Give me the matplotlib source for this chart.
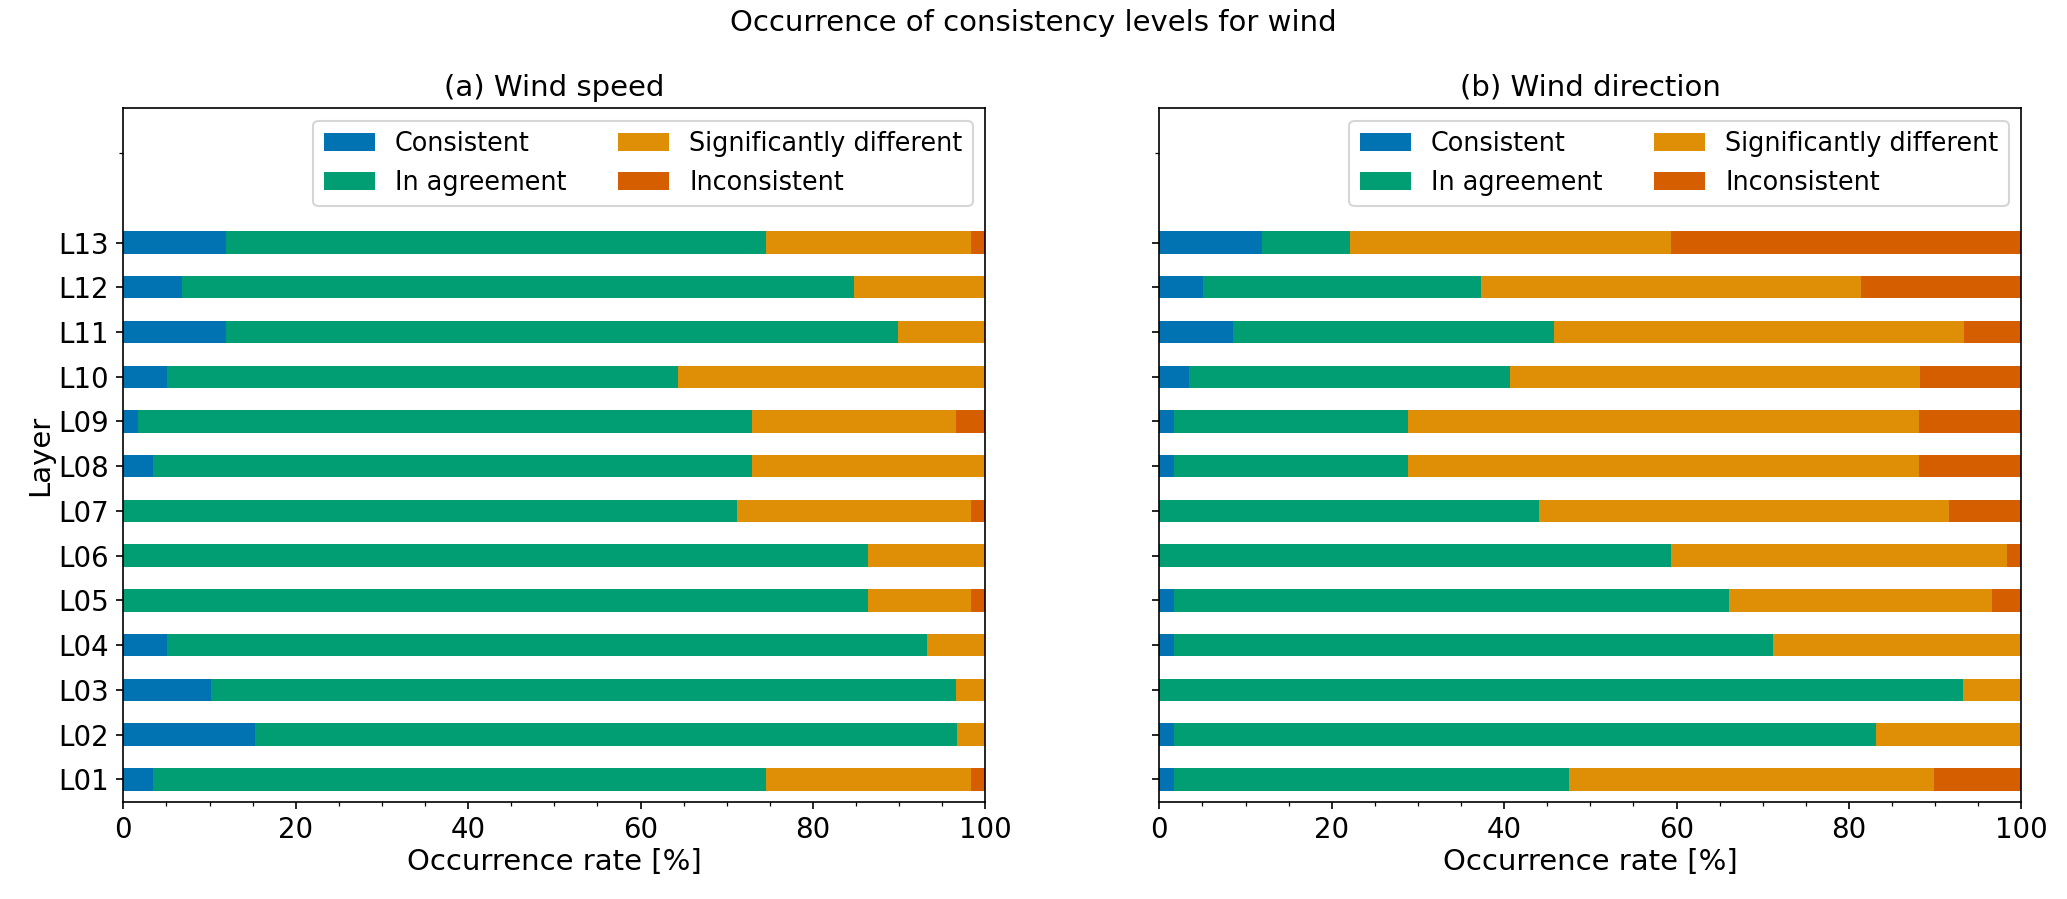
import matplotlib.pyplot as plt
from matplotlib.ticker import AutoMinorLocator
import numpy as np

layers = ['L01', 'L02', 'L03', 'L04', 'L05', 'L06', 'L07',
          'L08', 'L09', 'L10', 'L11', 'L12', 'L13']
levels = ['Consistent', 'In agreement', 'Significantly different', 'Inconsistent']
colors = ['#0173B2', '#029E73', '#DE8F05', '#D55E00']

# occurrence rate [%] per layer (L01 ... L13)
speed_consistent = [3.4, 15.3, 10.2, 5.1, 0.0, 0.0, 0.0, 3.4, 1.7, 5.1, 11.9, 6.8, 11.9]
speed_agreement = [71.2, 81.4, 86.4, 88.1, 86.4, 86.4, 71.2, 69.5, 71.2, 59.3, 78.0, 78.0, 62.7]
speed_signif = [23.7, 3.4, 3.4, 6.8, 11.9, 13.6, 27.1, 27.1, 23.7, 35.6, 10.2, 15.3, 23.7]
speed_inconsistent = [1.7, 0.0, 0.0, 0.0, 1.7, 0.0, 1.7, 0.0, 3.4, 0.0, 0.0, 0.0, 1.7]

dir_consistent = [1.7, 1.7, 0.0, 1.7, 1.7, 0.0, 0.0, 1.7, 1.7, 3.4, 8.5, 5.1, 11.9]
dir_agreement = [45.8, 81.4, 93.2, 69.5, 64.4, 59.3, 44.1, 27.1, 27.1, 37.3, 37.3, 32.2, 10.2]
dir_signif = [42.4, 16.9, 6.8, 28.8, 30.5, 39.0, 47.5, 59.3, 59.3, 47.5, 47.5, 44.1, 37.3]
dir_inconsistent = [10.2, 0.0, 0.0, 0.0, 3.4, 1.7, 8.5, 11.9, 11.9, 11.9, 6.8, 18.6, 40.7]

panels = [
    ('(a) Wind speed', [speed_consistent, speed_agreement, speed_signif, speed_inconsistent]),
    ('(b) Wind direction', [dir_consistent, dir_agreement, dir_signif, dir_inconsistent]),
]

fig = plt.figure(figsize=(2067 / 150, 899 / 150), dpi=150)
axes = [fig.add_axes([0.0597, 0.1082, 0.417, 0.7713]),
        fig.add_axes([0.5609, 0.1082, 0.417, 0.7713])]

y = np.arange(len(layers))
for k, (ax, (title, series)) in enumerate(zip(axes, panels)):
    left = np.zeros(len(layers))
    for vals, lab, col in zip(series, levels, colors):
        ax.barh(y, vals, left=left, height=0.5, color=col, label=lab)
        left += np.array(vals)
    ax.set_xlim(0, 100)
    ax.set_ylim(-0.5, 15)
    ax.set_yticks(y)
    ax.set_yticks([14], minor=True)
    if k == 0:
        ax.set_yticklabels(layers)
        ax.set_ylabel('Layer', fontsize=14, labelpad=2)
    else:
        ax.set_yticklabels([])
    ax.xaxis.set_minor_locator(AutoMinorLocator(4))
    ax.tick_params(labelsize=13.25)
    ax.set_xlabel('Occurrence rate [%]', fontsize=14, labelpad=2)
    ax.set_title(title, fontsize=14)
    ax.legend(loc='upper right', ncol=2, fontsize=12.25)

fig.suptitle('Occurrence of consistency levels for wind', fontsize=14, y=0.99)
fig.savefig('out.png', dpi=150)
